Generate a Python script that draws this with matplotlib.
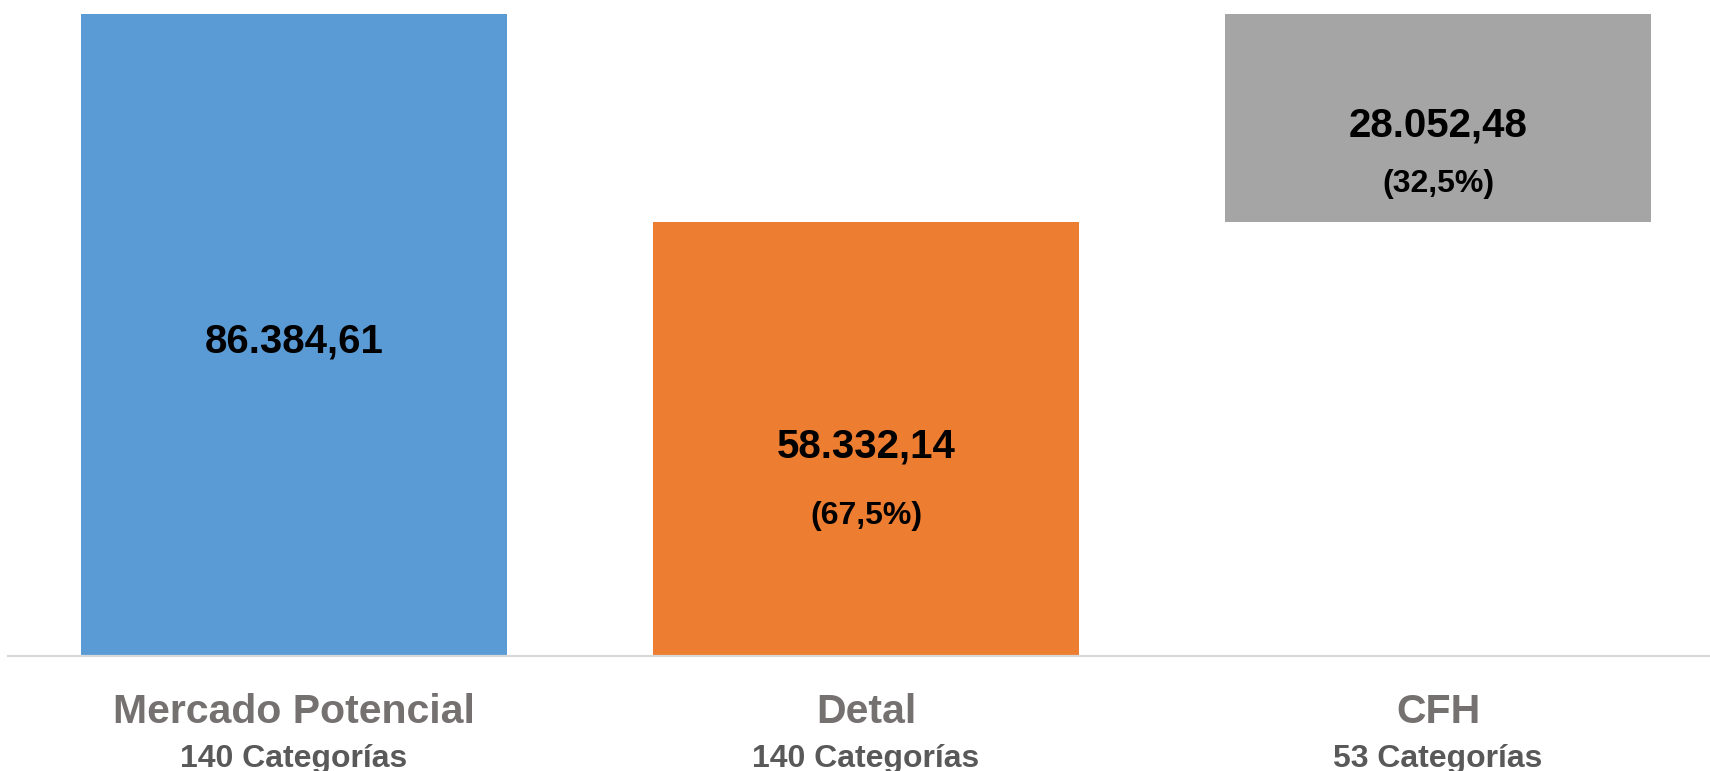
import matplotlib
matplotlib.use("Agg")
import matplotlib.pyplot as plt

categories = ["Mercado Potencial", "Detal", "CFH"]
subtitles = ["140 Categorías", "140 Categorías", "53 Categorías"]
values = [86384.61, 58332.14, 28052.48]
bottoms = [0, 0, 58332.14]
value_labels = ["86.384,61", "58.332,14", "28.052,48"]
pct_labels = [None, "(67,5%)", "(32,5%)"]
colors = ["#5B9BD5", "#ED7D31", "#A5A5A5"]

# label offsets (points) for the percentage line, per bar
pct_offsets = [0, -55, -47.5]

W, H = 1710, 771
fig = plt.figure(figsize=(W / 100, H / 100), dpi=100)
plt.rcParams['font.family'] = ['Liberation Sans', 'DejaVu Sans']

left_px, right_px = 8, 8 + 3 * 572
bot_px, top_px = 656, 14
ax = fig.add_axes([left_px / W, (H - bot_px) / H, (right_px - left_px) / W, (bot_px - top_px) / H])
ax.set_xlim(-0.5, 2.5)
ax.set_ylim(0, values[0])

x = list(range(len(categories)))
ax.bar(x, values, bottom=bottoms, width=426 / 572, color=colors, zorder=2)

for s in ["top", "left", "right"]:
    ax.spines[s].set_visible(False)
ax.spines["bottom"].set_color("#D9D9D9")
ax.spines["bottom"].set_linewidth(1.6)
ax.spines["bottom"].set_zorder(3)
ax.set_yticks([])
ax.set_xticks([])

for i in x:
    yc = bottoms[i] + values[i] / 2
    ax.annotate(value_labels[i], xy=(i, yc), xytext=(0, -5), textcoords="offset points",
                ha="center", va="center", fontsize=29, fontweight="bold", color="black")
    if pct_labels[i]:
        ax.annotate(pct_labels[i], xy=(i, yc), xytext=(0, pct_offsets[i]), textcoords="offset points",
                    ha="center", va="center", fontsize=23, fontweight="bold", color="black")
    ax.annotate(categories[i], xy=(i, 0), xycoords=("data", "axes fraction"),
                xytext=(0, -40), textcoords="offset points",
                ha="center", va="center", fontsize=29.5, fontweight="bold", color="#767171",
                annotation_clip=False)
    ax.annotate(subtitles[i], xy=(i, 0), xycoords=("data", "axes fraction"),
                xytext=(0, -74.5), textcoords="offset points",
                ha="center", va="center", fontsize=23, fontweight="bold", color="#595959",
                annotation_clip=False)

fig.savefig("out.png", dpi=100)
